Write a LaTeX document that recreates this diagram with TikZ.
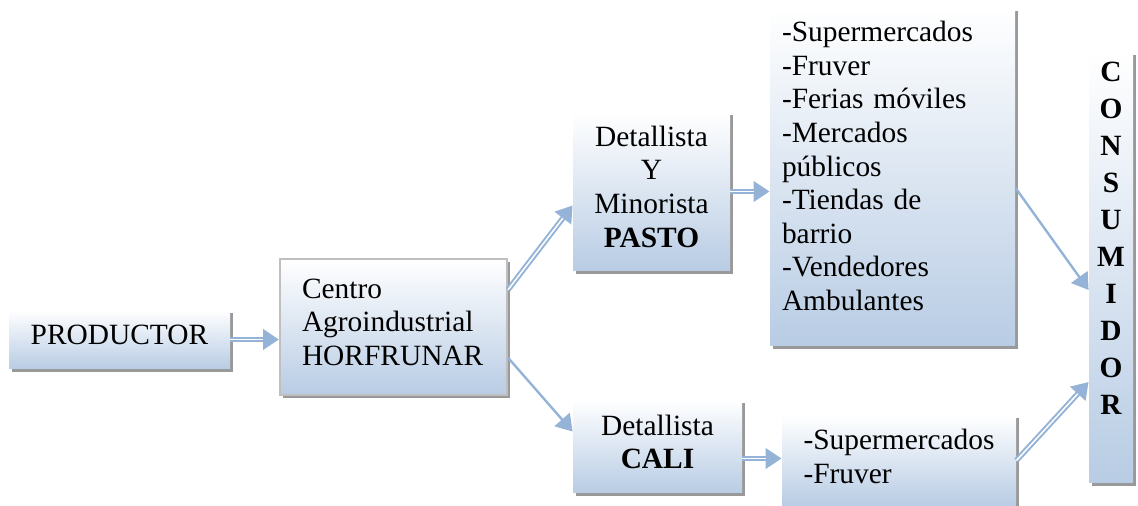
\documentclass[tikz,border=0pt]{standalone}
\usepackage{fontspec}
\setmainfont{Liberation Serif}
\usetikzlibrary{arrows.meta,shadows,calc,positioning}
\definecolor{boxblue}{HTML}{B8CCE4}
\definecolor{arrowblue}{HTML}{95B3D7}
\newcommand{\padbelow}[1]{\rule[-#1]{0pt}{#1}}
\tikzset{x=0.5pt,y=-0.5pt,
  box/.style={top color=white,bottom color=boxblue,inner sep=0pt,
    drop shadow={shadow xshift=1.5pt,shadow yshift=-1.5pt,fill=black!40,opacity=1},
    font=\fontsize{14.7}{16.8}\selectfont},
  dblarrow/.style={draw=arrowblue,line width=2.75pt,-{Triangle[length=8pt,width=10pt]},
    postaction={draw=white,line width=0.75pt,shorten >=8pt,-}},
  thinarrow/.style={draw=arrowblue,line width=1.2pt,-{Triangle[length=8pt,width=10pt]}}}

\begin{document}
\begin{tikzpicture}
    \useasboundingbox (0,0) rectangle (1138,506);
    \node[box,minimum width=110.5pt,minimum height=29.5pt] (prod) at (119.5,339.5) {PRODUCTOR\padbelow{5pt}};
    \node[box,draw=black!25,line width=1pt,minimum width=113.5pt,minimum height=68pt,
      text width=91.5pt,align=left] (centro) at (393.5,327) {Centro\\Agroindustrial\\HORFRUNAR\padbelow{5pt}};
    \node[box,minimum width=78.5pt,minimum height=79.5pt,align=center] (pasto) at (651.5,191.5)
      {Detallista\\Y\\Minorista\\\textbf{PASTO}\padbelow{5pt}};
    \node[box,minimum width=84.5pt,minimum height=46.5pt,align=center] (cali) at (657.5,446.5)
      {Detallista\\\textbf{CALI}\padbelow{4.5pt}};
    \node[box,minimum width=122.5pt,minimum height=169pt,inner xsep=6pt,text width=110.5pt,
      align=left] (lista) at (892.5,177)
      {-Supermercados\\-Fruver\\-Ferias móviles\\-Mercados\\públicos\\-Tiendas de\\barrio\\-Vendedores\\Ambulantes\padbelow{11pt}};
    \node[box,minimum width=117pt,minimum height=45.5pt,align=left] (super) at (899,460.5)
      {-Supermercados\\-Fruver\padbelow{4.5pt}};
    \node[box,minimum width=22pt,minimum height=215.5pt,align=center,
      font=\fontsize{14.7}{18.5}\selectfont\bfseries] (consum) at (1111,267.5)
      {C\\O\\N\\S\\U\\M\\I\\D\\O\\R\padbelow{29pt}};
    \coordinate (caliout) at ($(cali.east)+(0,12)$);
    \coordinate (consumup) at ($(consum.west)+(0,22.5)$);
    \coordinate (consumdown) at ($(consum.west)+(0,114.5)$);
    \path
    (prod.east) edge[dblarrow] (prod.east -| centro.west)
    (centro.18.5) edge[dblarrow] (pasto.190.5)
    (centro.-15) edge[thinarrow] (cali.170)
    (pasto.east) edge[dblarrow] (pasto.east -| lista.west)
    (caliout) edge[dblarrow] (caliout -| super.west)
    (lista.-5.6) edge[thinarrow] (consumup)
    (super.east) edge[dblarrow] (consumdown)
    ;
\end{tikzpicture}
\end{document}
